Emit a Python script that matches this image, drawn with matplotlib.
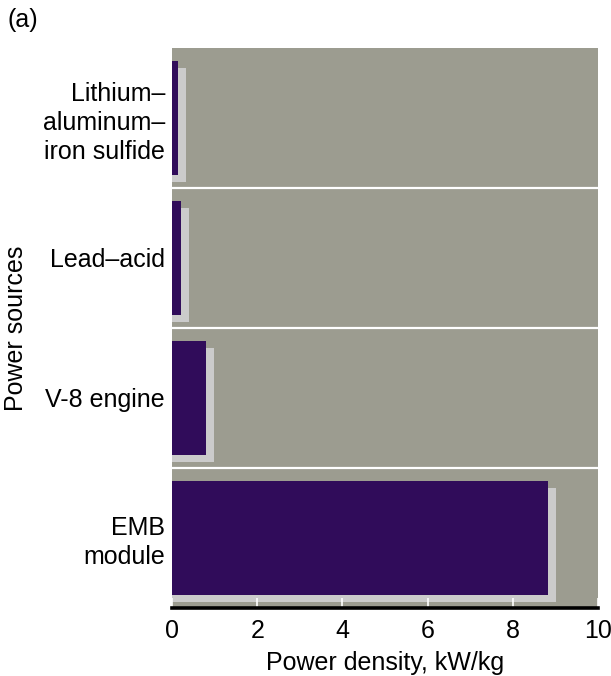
import matplotlib
matplotlib.use("Agg")
import matplotlib.pyplot as plt
import matplotlib.transforms as mtransforms

categories = ["Lithium–\naluminum–\niron sulfide", "Lead–acid", "V-8 engine", "EMB\nmodule"]
power_density = [0.15, 0.2, 0.8, 8.83]
xticks = [0, 2, 4, 6, 8, 10]

plt.rcParams['font.family'] = ['Liberation Sans', 'DejaVu Sans']
FS = 18

fig = plt.figure(figsize=(6.11, 6.76), dpi=100)
ax = fig.add_axes([0.2815, 0.1006, 0.6972, 0.8284])
ax.set_facecolor('#9c9c90')

ypos = list(range(len(categories)))[::-1]
bar_h = 0.81
shadow_extra = 0.19  # shadow extends a little beyond the bar end

shadow_tr = ax.transData + mtransforms.ScaledTranslation(0, -7/100, fig.dpi_scale_trans)
ax.barh(ypos, [v + shadow_extra for v in power_density], height=bar_h, color='#cbcbcb',
        transform=shadow_tr, zorder=1)
ax.barh(ypos, power_density, height=bar_h, color='#300c5a', zorder=2)

for y in [0.5, 1.5, 2.5]:
    ax.axhline(y, color='white', lw=1.6, zorder=3)

ax.set_xlim(0, 10)
ax.set_ylim(-0.5, 3.5)
ax.set_yticks(ypos)
ax.set_yticklabels(categories, fontsize=FS, multialignment='right', linespacing=1.25)
ax.set_xticks(xticks)
ax.set_xticklabels([str(t) for t in xticks], fontsize=FS)
ax.tick_params(axis='y', length=0, pad=5)
ax.tick_params(axis='x', direction='in', color='white', length=7, width=1.2, pad=8)

for s in ['left', 'right', 'top']:
    ax.spines[s].set_visible(False)
ax.spines['bottom'].set_linewidth(2.6)
ax.spines['bottom'].set_color('black')

ax.set_xlabel("Power density, kW/kg", fontsize=FS, labelpad=6)
ax.set_ylabel("Power sources", fontsize=FS)
ax.yaxis.set_label_coords(-0.338, 0.5)

fig.text(0.012, 0.97, "(a)", fontsize=FS, ha='left', va='center')

fig.savefig("out.png", dpi=100)
